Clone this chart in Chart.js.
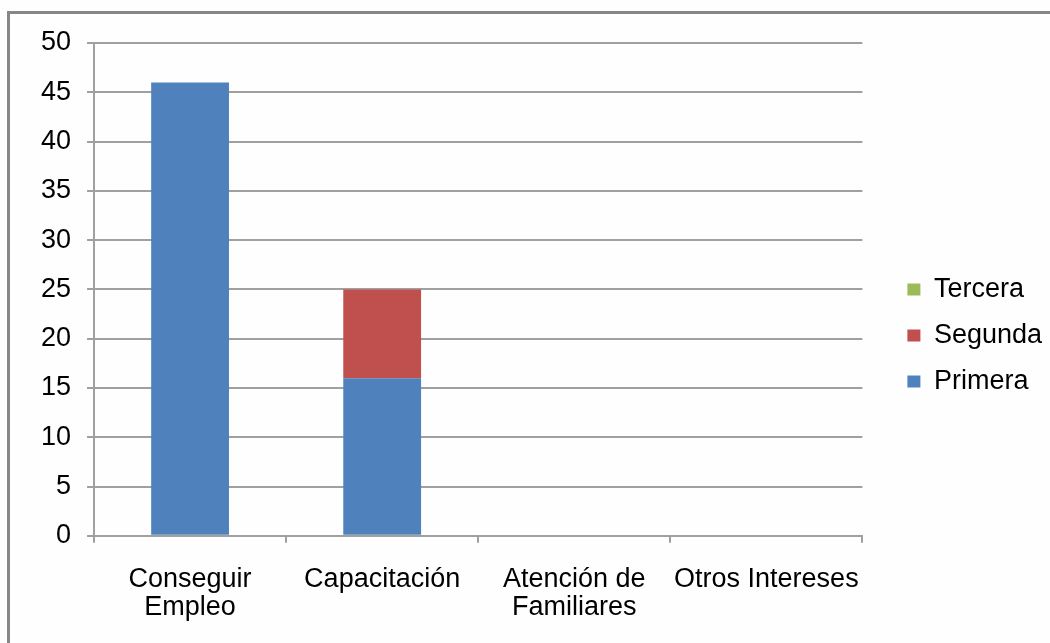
<!DOCTYPE html>
<html>
<head>
<meta charset="utf-8">
<script src="https://cdn.jsdelivr.net/npm/chart.js@4.4.1/dist/chart.umd.min.js"></script>
<style>
	html, body { margin: 0; padding: 0; background: #fefefe; overflow: hidden; }
	#wrap { position: relative; width: 1050px; height: 643px; overflow: hidden; }
	#frame { position: absolute; left: 7px; top: 11px; width: 1100px; height: 700px; border: 3px solid #878787; }
	#myChart { position: absolute; left: 0; top: 0; }
</style>
</head>
<body>
<div id="wrap">
	<div id="frame"></div>
	<canvas id="myChart" width="1080" height="660"></canvas>
</div>
<script>
const categories = [["Conseguir", "Empleo"], "Capacitación", ["Atención de", "Familiares"], "Otros Intereses"];
const primera = [46, 16, 0, 0];
const segunda = [0, 9, 0, 0];
const tercera = [0, 0, 0, 0];
const yTicks = [0, 5, 10, 15, 20, 25, 30, 35, 40, 45, 50];

const FONT = "'Liberation Sans', Arial, sans-serif";
const gridColor = "#a0a0a0";

function renderChart() {
	const canvas = document.getElementById("myChart");
	const ctx = canvas.getContext("2d");

	new Chart(ctx, {
		type: "bar",
		data: {
			labels: categories,
			datasets: [
				{ label: "Primera", data: primera, backgroundColor: "#4f81bd" },
				{ label: "Segunda", data: segunda, backgroundColor: "#c0504d" },
				{ label: "Tercera", data: tercera, backgroundColor: "#9bbb59" },
			],
		},
		options: {
			responsive: false,
			animation: false,
			devicePixelRatio: 1,
			layout: { padding: { left: 25, top: 43, right: 28, bottom: 15 } },
			datasets: {
				bar: { categoryPercentage: 1, barPercentage: 0.405, borderWidth: 0 },
			},
			plugins: {
				tooltip: { enabled: false },
				legend: {
					position: "right",
					align: "start",
					reverse: true,
					title: { display: true, text: "", padding: { top: 202, bottom: 0 }, font: { size: 10 } },
					labels: {
						boxWidth: 13,
						boxHeight: 12,
						padding: 19,
						color: "#000",
						font: { family: FONT, size: 27 },
					},
				},
			},
			scales: {
				x: {
					stacked: true,
					grid: { offset: true, drawOnChartArea: false, color: gridColor, lineWidth: 2, tickLength: 7 },
					border: { color: gridColor, width: 2 },
					ticks: { color: "#000", padding: 23, maxRotation: 0, autoSkip: false, font: { family: FONT, size: 27, lineHeight: 1.04 } },
				},
				y: {
					stacked: true,
					min: 0,
					max: 50,
					afterBuildTicks: (s) => { s.ticks = yTicks.map((v) => ({ value: v })); },
					grid: { color: gridColor, lineWidth: 2, tickLength: 7 },
					border: { color: gridColor, width: 2 },
					ticks: { color: "#000", padding: 16, font: { family: FONT, size: 27 } },
				},
				spacer: {
					type: "linear",
					position: "right",
					display: true,
					grid: { display: false },
					border: { display: false },
					ticks: { display: false },
					afterFit: (s) => { s.width = 26; },
				},
			},
		},
	});
}

renderChart();
</script>
</body>
</html>
